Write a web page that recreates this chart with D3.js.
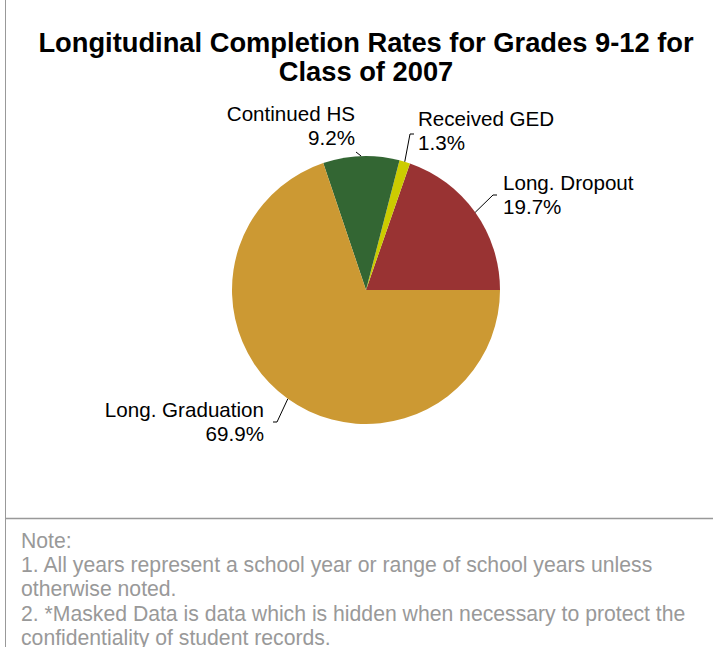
<!DOCTYPE html>
<html><head><meta charset="utf-8">
<script src="https://cdn.jsdelivr.net/npm/d3@7"></script>
<style>
body{margin:0;background:#fff;}
svg{display:block;font-family:"Liberation Sans",Arial,sans-serif;}
</style></head>
<body>
<svg id="chart" width="713" height="647"></svg>
<script>
const categories = ["Long. Dropout", "Received GED", "Continued HS", "Long. Graduation"];
const values = [19.7, 1.3, 9.2, 69.9];
const valueLabels = ["19.7%", "1.3%", "9.2%", "69.9%"];
const colors = ["#993333", "#CCCC00", "#336633", "#CC9933"];
const titleLines = ["Longitudinal Completion Rates for Grades 9-12 for", "Class of 2007"];
const noteLines = ["Note:", "1. All years represent a school year or range of school years unless", "otherwise noted.", "2. *Masked Data is data which is hidden when necessary to protect the", "confidentiality of student records."];

// layout (not data)
const cx = 366, cy = 290, r = 134;
const labelLayout = [
  {elbow:[493,195], end:[497,195], tx:503, ty:190, anchor:"start"},
  {elbow:[410,134], end:[414,134], tx:418, ty:126, anchor:"start"},
  {elbow:[356,152], end:[356,152], tx:355, ty:121, anchor:"end"},
  {elbow:[277,422], end:[273,422], tx:264, ty:417, anchor:"end"}
];

const svg = d3.select("#chart");
// frame
svg.append("line").attr("x1",5.5).attr("x2",5.5).attr("y1",0).attr("y2",647).attr("stroke","#999").attr("stroke-width",1);
svg.append("line").attr("x1",6).attr("x2",713).attr("y1",518.5).attr("y2",518.5).attr("stroke","#999").attr("stroke-width",1.5);

// title
svg.append("text").attr("x",366).attr("y",52).attr("text-anchor","middle")
  .attr("font-weight","bold").attr("font-size",27.3).attr("fill","#000")
  .selectAll("tspan").data(titleLines).join("tspan")
  .attr("x",366).attr("dy",(d,i)=>i?28.5:0).text(d=>d);

const pie = d3.pie().sort(null).value(d=>d).startAngle(Math.PI/2).endAngle(Math.PI/2 - 2*Math.PI);
const arcs = pie(values);
const arc = d3.arc().innerRadius(0).outerRadius(r);
const g = svg.append("g").attr("transform",`translate(${cx},${cy})`);
g.selectAll("path").data(arcs).join("path").attr("d",arc).attr("fill",(d,i)=>colors[i]);

// leader lines
arcs.forEach((a,i)=>{
  const mid = (a.startAngle + a.endAngle)/2;
  const sx = cx + r*Math.sin(mid), sy = cy - r*Math.cos(mid);
  const L = labelLayout[i];
  svg.append("polyline").attr("points",`${sx},${sy} ${L.elbow[0]},${L.elbow[1]} ${L.end[0]},${L.end[1]}`)
    .attr("fill","none").attr("stroke","#000").attr("stroke-width",1);
  const t = svg.append("text").attr("font-size",20.6).attr("fill","#000").attr("text-anchor",L.anchor);
  t.append("tspan").attr("x",L.tx).attr("y",L.ty).text(categories[i]);
  t.append("tspan").attr("x",L.tx).attr("y",L.ty+24).text(valueLabels[i]);
});

// note
const nt = svg.append("text").attr("font-size",21.2).attr("fill","#999");
nt.selectAll("tspan").data(noteLines).join("tspan").attr("x",21).attr("y",(d,i)=>548+i*24.2).text(d=>d);
</script>
</body></html>
